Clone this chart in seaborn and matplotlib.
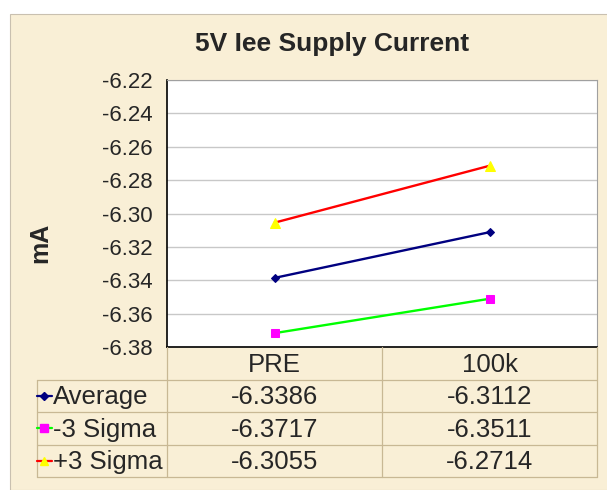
import matplotlib
matplotlib.use("Agg")
import matplotlib.pyplot as plt
from matplotlib.patches import Rectangle
import numpy as np
import pandas as pd
import seaborn as sns

# data
stages = ["PRE", "100k"]
series_names = ["Average", "-3 Sigma", "+3 Sigma"]
average = [-6.3386, -6.3112]
minus_3sigma = [-6.3717, -6.3511]
plus_3sigma = [-6.3055, -6.2714]
y_ticks = [-6.38, -6.36, -6.34, -6.32, -6.30, -6.28, -6.26, -6.24, -6.22]

values = [average, minus_3sigma, plus_3sigma]
df = pd.DataFrame({
    "stage": np.tile(stages, len(series_names)),
    "series": np.repeat(series_names, len(stages)),
    "value": np.concatenate(values),
})

styles = {
    "Average": dict(color="#000080", marker="D", mfc="#000080", mec="#000080", ms=4.5),
    "-3 Sigma": dict(color="#00FF00", marker="s", mfc="#FF00FF", mec="#FF00FF", ms=6),
    "+3 Sigma": dict(color="#FF0000", marker="^", mfc="#FFFF00", mec="#FFFF00", ms=6.5),
}

sns.set_style("white")
plt.rcParams["font.family"] = ["Liberation Sans", "DejaVu Sans"]

W, H = 607, 490
fig = plt.figure(figsize=(W / 100, H / 100), dpi=100, facecolor="white")
bg = "#F9EFD6"
fig.patches.append(Rectangle((10 / W, 0), 1, 1 - 14 / H, transform=fig.transFigure,
                             facecolor=bg, edgecolor="#C9C0B0", linewidth=0.8, zorder=-10))


def px_axes(l, t, r, b):
    return [l / W, 1 - b / H, (r - l) / W, (b - t) / H]


ax = fig.add_axes(px_axes(167, 80, 597, 347))
ax.set_facecolor("white")
for name in series_names:
    st = styles[name]
    sns.lineplot(data=df[df["series"] == name], x="stage", y="value", ax=ax,
                 color=st["color"], marker=st["marker"], markersize=st["ms"],
                 markerfacecolor=st["mfc"], markeredgecolor=st["mec"],
                 linewidth=1.7, legend=False, sort=False)

ax.set_xlim(-0.5, 1.5)
ax.set_ylim(-6.38, -6.22)
ax.set_yticks(y_ticks)
ax.set_yticklabels([f"{v:.2f}" for v in y_ticks], fontsize=16)
ax.set_xticks([])
ax.set_xlabel("")
ax.set_ylabel("")
ax.grid(axis="y", color="#C8C8C8", linewidth=1.0)
ax.tick_params(axis="y", direction="out", length=5, color="#909090", pad=5)
for side in ["top", "right"]:
    ax.spines[side].set_color("#A0A0A0")
for side in ["left", "bottom"]:
    ax.spines[side].set_color("black")
    ax.spines[side].set_linewidth(1.2)

fig.text(332 / W, 1 - 44 / H, "5V Iee Supply Current", ha="center", va="center",
         fontsize=19, fontweight="bold")
fig.text(40 / W, 1 - 243 / H, "mA", ha="center", va="center", rotation=90,
         fontsize=18, fontweight="bold")

# data table under the chart
tab = fig.add_axes(px_axes(37, 347, 597, 477))
tab.set_xlim(-1.1047, 1.5)
tab.set_ylim(4, 0)
tab.axis("off")
grid_c = "#C8B894"
for y in [1, 2, 3, 4]:
    tab.plot([-1.1047, 1.5], [y, y], color=grid_c, lw=0.9, clip_on=False)
tab.plot([-1.1047, -1.1047], [1, 4], color=grid_c, lw=0.9, clip_on=False)
for x in [-0.5, 0.5, 1.5]:
    tab.plot([x, x], [0, 4], color=grid_c, lw=0.9, clip_on=False)

for i, s in enumerate(stages):
    tab.text(i, 0.55, s, ha="center", va="center", fontsize=18.5)
for r, name in enumerate(series_names):
    st = styles[name]
    yc = r + 1.5
    tab.plot([-1.1047, -1.035], [yc, yc], color=st["color"], lw=1.6, clip_on=False)
    tab.plot([-1.07], [yc], marker=st["marker"], ms=st["ms"] * 0.9,
             mfc=st["mfc"], mec=st["mec"], clip_on=False)
    tab.text(-1.03, yc + 0.05, name, ha="left", va="center", fontsize=18.5)
    for i in range(len(stages)):
        tab.text(i, yc + 0.05, f"{values[r][i]:.4f}", ha="center", va="center", fontsize=18.5)

fig.savefig("out.png", dpi=100, facecolor=fig.get_facecolor())
